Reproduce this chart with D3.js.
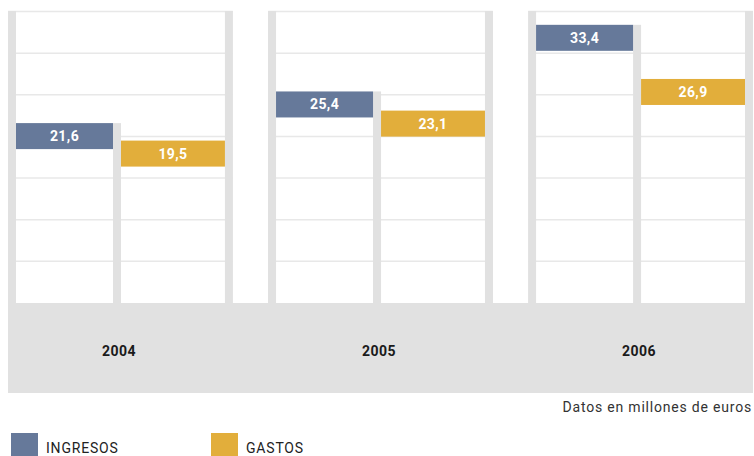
<!DOCTYPE html>
<html>
<head>
<meta charset="utf-8">
<script src="https://cdn.jsdelivr.net/npm/d3@7"></script>
<style>
  body { margin: 0; background: #fff; }
  svg { display: block; font-family: Roboto, "DejaVu Sans", sans-serif; }
</style>
</head>
<body>
<div id="chart"></div>
<script>
// data (millones de euros)
var years = ["2004", "2005", "2006"];
var ingresos = [21.6, 25.4, 33.4];
var gastos = [19.5, 23.1, 26.9];
var gridTicks = [0, 5, 10, 15, 20, 25, 30, 35];
var seriesNames = ["INGRESOS", "GASTOS"];

var width = 754, height = 456;
var blue = "#66799a", gold = "#e2ae3b", strip = "#e1e1e1", grid = "#e8e8e8";

var svg = d3.select("#chart").append("svg")
    .attr("width", width)
    .attr("height", height);

// x: one panel per year
var x = d3.scaleBand()
    .domain(years)
    .range([8, 753])
    .paddingInner(0.135)
    .paddingOuter(0);

// y: value scale
var y = d3.scaleLinear()
    .domain([0, 35])
    .range([303, 11.5]);

var sw = 8;        // strip width
var innerW = 97;   // ingresos column width
var barH = 26;

var fmt = function (v) { return d3.format(".1f")(v).replace(".", ","); };

// bottom band
svg.append("rect")
    .attr("x", 8).attr("y", y(0))
    .attr("width", 745).attr("height", 90)
    .attr("fill", strip);

var panels = svg.selectAll(".panel")
    .data(years)
    .enter()
    .append("g")
    .attr("class", "panel")
    .attr("transform", function (d) { return "translate(" + x(d) + ",0)"; });

// gridlines
panels.selectAll(".grid")
    .data(gridTicks.slice(1))
    .enter()
    .append("line")
    .attr("x1", 0).attr("x2", x.bandwidth())
    .attr("y1", function (d) { return y(d); })
    .attr("y2", function (d) { return y(d); })
    .attr("stroke", grid)
    .attr("stroke-width", 1.5);

// left / right strips
panels.append("rect")
    .attr("x", 0).attr("y", y(35) - 0.5)
    .attr("width", sw).attr("height", y(0) - y(35) + 0.5)
    .attr("fill", strip);
panels.append("rect")
    .attr("x", x.bandwidth() - sw).attr("y", y(35) - 0.5)
    .attr("width", sw).attr("height", y(0) - y(35) + 0.5)
    .attr("fill", strip);

// middle strip (starts at ingresos bar top)
panels.append("rect")
    .attr("x", sw + innerW)
    .attr("y", function (d, i) { return y(ingresos[i]); })
    .attr("width", sw)
    .attr("height", function (d, i) { return y(0) - y(ingresos[i]); })
    .attr("fill", strip);

// ingresos bars
panels.append("rect")
    .attr("x", sw)
    .attr("y", function (d, i) { return y(ingresos[i]); })
    .attr("width", innerW)
    .attr("height", barH)
    .attr("fill", blue);
panels.append("text")
    .attr("x", sw + innerW / 2)
    .attr("y", function (d, i) { return y(ingresos[i]) + barH / 2 + 5; })
    .attr("text-anchor", "middle")
    .attr("fill", "#fff")
    .style("font-size", "14px")
    .style("font-weight", "bold")
    .style("letter-spacing", "0.4px")
    .text(function (d, i) { return fmt(ingresos[i]); });

// gastos bars
panels.append("rect")
    .attr("x", 2 * sw + innerW)
    .attr("y", function (d, i) { return y(gastos[i]); })
    .attr("width", x.bandwidth() - 3 * sw - innerW)
    .attr("height", barH)
    .attr("fill", gold);
panels.append("text")
    .attr("x", (2 * sw + innerW + x.bandwidth() - sw) / 2)
    .attr("y", function (d, i) { return y(gastos[i]) + barH / 2 + 5; })
    .attr("text-anchor", "middle")
    .attr("fill", "#fff")
    .style("font-size", "14px")
    .style("font-weight", "bold")
    .style("letter-spacing", "0.4px")
    .text(function (d, i) { return fmt(gastos[i]); });

// year labels
panels.append("text")
    .attr("x", sw + innerW + sw / 2 + 2)
    .attr("y", 356)
    .attr("text-anchor", "middle")
    .attr("fill", "#1a1a1a")
    .style("font-size", "14px")
    .style("font-weight", "bold")
    .style("letter-spacing", "0.5px")
    .text(function (d) { return d; });

// note
svg.append("text")
    .attr("x", 752).attr("y", 412)
    .attr("text-anchor", "end")
    .attr("fill", "#333")
    .style("font-size", "14px")
    .style("letter-spacing", "0.8px")
    .text("Datos en millones de euros");

// legend
var legend = svg.selectAll(".legend")
    .data(seriesNames)
    .enter()
    .append("g")
    .attr("transform", function (d, i) { return "translate(" + (11 + i * 200) + ",433)"; });
legend.append("rect")
    .attr("width", 27).attr("height", 26)
    .attr("fill", function (d, i) { return i == 0 ? blue : gold; });
legend.append("text")
    .attr("x", 35).attr("y", 20)
    .attr("fill", "#222")
    .style("font-size", "14px")
    .style("letter-spacing", "0.8px")
    .text(function (d) { return d; });
</script>
</body>
</html>
